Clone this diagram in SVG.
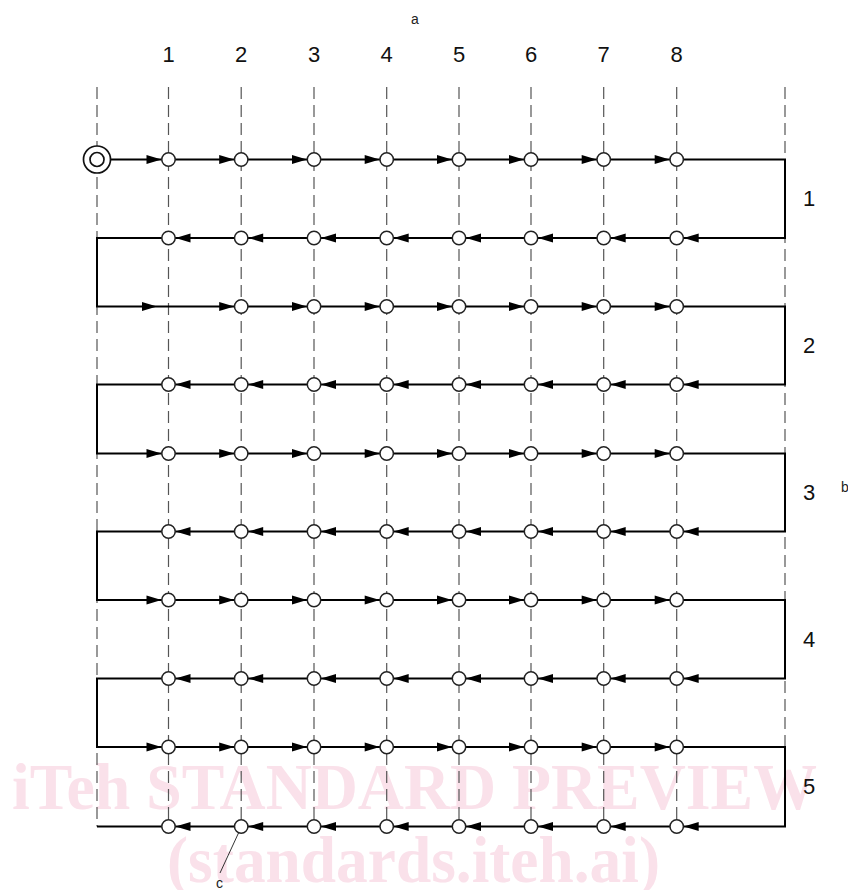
<svg xmlns="http://www.w3.org/2000/svg" xmlns:xlink="http://www.w3.org/1999/xlink" width="848" height="890" viewBox="0 0 848 890">
<style>
.wm{font-family:"Liberation Serif",serif;font-weight:bold;font-size:65px;fill:#fae1ea}
.lbl{font-family:"Liberation Sans",Arial,sans-serif;font-size:22px;fill:#111;text-anchor:middle}
.sm{font-family:"Liberation Sans",Arial,sans-serif;font-size:14px;fill:#222}
.dash{stroke:#555;stroke-width:1.2;stroke-dasharray:12 6;fill:none}
.flow{stroke:#000;stroke-width:2;fill:none}
.nd{fill:#fff;stroke:#222;stroke-width:1.5}
</style>
<defs>
<polygon id="ar" points="-15,-4.5 0,0 -15,4.5" fill="#000"/>
<polygon id="al" points="15,-4.5 0,0 15,4.5" fill="#000"/>
<circle id="node" r="6.7" class="nd"/>
</defs>
<rect width="848" height="890" fill="#fff"/>
<g id="watermark">
<text class="wm" x="12" y="809" textLength="805" lengthAdjust="spacingAndGlyphs">iTeh STANDARD PREVIEW</text>
<text class="wm" x="167" y="882" textLength="493" lengthAdjust="spacingAndGlyphs">(standards.iteh.ai)</text>
</g>
<g id="gridlines">
<line class="dash" x1="97" y1="87" x2="97" y2="826.5"/>
<line class="dash" x1="168.5" y1="87" x2="168.5" y2="826.5"/>
<line class="dash" x1="241.2" y1="87" x2="241.2" y2="826.5"/>
<line class="dash" x1="314" y1="87" x2="314" y2="826.5"/>
<line class="dash" x1="386.7" y1="87" x2="386.7" y2="826.5"/>
<line class="dash" x1="459" y1="87" x2="459" y2="826.5"/>
<line class="dash" x1="531" y1="87" x2="531" y2="826.5"/>
<line class="dash" x1="603.7" y1="87" x2="603.7" y2="826.5"/>
<line class="dash" x1="676.7" y1="87" x2="676.7" y2="826.5"/>
<line class="dash" x1="785" y1="87" x2="785" y2="826.5"/>
</g>
<g id="labels">
<text class="lbl" x="168.5" y="62">1</text>
<text class="lbl" x="241.2" y="62">2</text>
<text class="lbl" x="314" y="62">3</text>
<text class="lbl" x="386.7" y="62">4</text>
<text class="lbl" x="459" y="62">5</text>
<text class="lbl" x="531" y="62">6</text>
<text class="lbl" x="603.7" y="62">7</text>
<text class="lbl" x="676.7" y="62">8</text>
<text class="lbl" x="809" y="206">1</text>
<text class="lbl" x="809" y="353">2</text>
<text class="lbl" x="809" y="500">3</text>
<text class="lbl" x="809" y="647">4</text>
<text class="lbl" x="809" y="794">5</text>
<text class="sm" x="411" y="24">a</text>
<text class="sm" x="841" y="492">b</text>
<text class="sm" x="216" y="888">c</text>
</g>
<g id="connectors">
<path class="flow" d="M110,159.5 H785 V238 H97 V306.5 H785 V384.5 H97 V453.5 H785 V531.5 H97 V600 H785 V678.5 H97 V747 H785 V826.5 H97"/>
<line x1="238.5" y1="833" x2="220" y2="873" stroke="#333" stroke-width="1"/>
<g id="arrows-r1">
<use href="#ar" x="161.5" y="159.5"/><use href="#ar" x="234.2" y="159.5"/><use href="#ar" x="307" y="159.5"/><use href="#ar" x="379.7" y="159.5"/><use href="#ar" x="452" y="159.5"/><use href="#ar" x="524" y="159.5"/><use href="#ar" x="596.7" y="159.5"/><use href="#ar" x="669.7" y="159.5"/>
</g>
<g id="arrows-r2">
<use href="#al" x="175.5" y="238"/><use href="#al" x="248.2" y="238"/><use href="#al" x="321" y="238"/><use href="#al" x="393.7" y="238"/><use href="#al" x="466" y="238"/><use href="#al" x="538" y="238"/><use href="#al" x="610.7" y="238"/><use href="#al" x="683.7" y="238"/>
</g>
<g id="arrows-r3">
<use href="#ar" x="157" y="306.5"/><use href="#ar" x="234.2" y="306.5"/><use href="#ar" x="307" y="306.5"/><use href="#ar" x="379.7" y="306.5"/><use href="#ar" x="452" y="306.5"/><use href="#ar" x="524" y="306.5"/><use href="#ar" x="596.7" y="306.5"/><use href="#ar" x="669.7" y="306.5"/>
</g>
<g id="arrows-r4">
<use href="#al" x="175.5" y="384.5"/><use href="#al" x="248.2" y="384.5"/><use href="#al" x="321" y="384.5"/><use href="#al" x="393.7" y="384.5"/><use href="#al" x="466" y="384.5"/><use href="#al" x="538" y="384.5"/><use href="#al" x="610.7" y="384.5"/><use href="#al" x="683.7" y="384.5"/>
</g>
<g id="arrows-r5">
<use href="#ar" x="161.5" y="453.5"/><use href="#ar" x="234.2" y="453.5"/><use href="#ar" x="307" y="453.5"/><use href="#ar" x="379.7" y="453.5"/><use href="#ar" x="452" y="453.5"/><use href="#ar" x="524" y="453.5"/><use href="#ar" x="596.7" y="453.5"/><use href="#ar" x="669.7" y="453.5"/>
</g>
<g id="arrows-r6">
<use href="#al" x="175.5" y="531.5"/><use href="#al" x="248.2" y="531.5"/><use href="#al" x="321" y="531.5"/><use href="#al" x="393.7" y="531.5"/><use href="#al" x="466" y="531.5"/><use href="#al" x="538" y="531.5"/><use href="#al" x="610.7" y="531.5"/><use href="#al" x="683.7" y="531.5"/>
</g>
<g id="arrows-r7">
<use href="#ar" x="161.5" y="600"/><use href="#ar" x="234.2" y="600"/><use href="#ar" x="307" y="600"/><use href="#ar" x="379.7" y="600"/><use href="#ar" x="452" y="600"/><use href="#ar" x="524" y="600"/><use href="#ar" x="596.7" y="600"/><use href="#ar" x="669.7" y="600"/>
</g>
<g id="arrows-r8">
<use href="#al" x="175.5" y="678.5"/><use href="#al" x="248.2" y="678.5"/><use href="#al" x="321" y="678.5"/><use href="#al" x="393.7" y="678.5"/><use href="#al" x="466" y="678.5"/><use href="#al" x="538" y="678.5"/><use href="#al" x="610.7" y="678.5"/><use href="#al" x="683.7" y="678.5"/>
</g>
<g id="arrows-r9">
<use href="#ar" x="161.5" y="747"/><use href="#ar" x="234.2" y="747"/><use href="#ar" x="307" y="747"/><use href="#ar" x="379.7" y="747"/><use href="#ar" x="452" y="747"/><use href="#ar" x="524" y="747"/><use href="#ar" x="596.7" y="747"/><use href="#ar" x="669.7" y="747"/>
</g>
<g id="arrows-r10">
<use href="#al" x="175.5" y="826.5"/><use href="#al" x="248.2" y="826.5"/><use href="#al" x="321" y="826.5"/><use href="#al" x="393.7" y="826.5"/><use href="#al" x="466" y="826.5"/><use href="#al" x="538" y="826.5"/><use href="#al" x="610.7" y="826.5"/><use href="#al" x="683.7" y="826.5"/>
</g>
</g>
<g id="start"><circle cx="97" cy="159.5" r="13.5" fill="#fff" stroke="#111" stroke-width="1.7"/><circle cx="97" cy="159.5" r="7" fill="#fff" stroke="#111" stroke-width="1.7"/></g>
<g id="n-r1c1"><use href="#node" x="168.5" y="159.5"/></g>
<g id="n-r1c2"><use href="#node" x="241.2" y="159.5"/></g>
<g id="n-r1c3"><use href="#node" x="314" y="159.5"/></g>
<g id="n-r1c4"><use href="#node" x="386.7" y="159.5"/></g>
<g id="n-r1c5"><use href="#node" x="459" y="159.5"/></g>
<g id="n-r1c6"><use href="#node" x="531" y="159.5"/></g>
<g id="n-r1c7"><use href="#node" x="603.7" y="159.5"/></g>
<g id="n-r1c8"><use href="#node" x="676.7" y="159.5"/></g>
<g id="n-r2c1"><use href="#node" x="168.5" y="238"/></g>
<g id="n-r2c2"><use href="#node" x="241.2" y="238"/></g>
<g id="n-r2c3"><use href="#node" x="314" y="238"/></g>
<g id="n-r2c4"><use href="#node" x="386.7" y="238"/></g>
<g id="n-r2c5"><use href="#node" x="459" y="238"/></g>
<g id="n-r2c6"><use href="#node" x="531" y="238"/></g>
<g id="n-r2c7"><use href="#node" x="603.7" y="238"/></g>
<g id="n-r2c8"><use href="#node" x="676.7" y="238"/></g>
<g id="n-r3c2"><use href="#node" x="241.2" y="306.5"/></g>
<g id="n-r3c3"><use href="#node" x="314" y="306.5"/></g>
<g id="n-r3c4"><use href="#node" x="386.7" y="306.5"/></g>
<g id="n-r3c5"><use href="#node" x="459" y="306.5"/></g>
<g id="n-r3c6"><use href="#node" x="531" y="306.5"/></g>
<g id="n-r3c7"><use href="#node" x="603.7" y="306.5"/></g>
<g id="n-r3c8"><use href="#node" x="676.7" y="306.5"/></g>
<g id="n-r4c1"><use href="#node" x="168.5" y="384.5"/></g>
<g id="n-r4c2"><use href="#node" x="241.2" y="384.5"/></g>
<g id="n-r4c3"><use href="#node" x="314" y="384.5"/></g>
<g id="n-r4c4"><use href="#node" x="386.7" y="384.5"/></g>
<g id="n-r4c5"><use href="#node" x="459" y="384.5"/></g>
<g id="n-r4c6"><use href="#node" x="531" y="384.5"/></g>
<g id="n-r4c7"><use href="#node" x="603.7" y="384.5"/></g>
<g id="n-r4c8"><use href="#node" x="676.7" y="384.5"/></g>
<g id="n-r5c1"><use href="#node" x="168.5" y="453.5"/></g>
<g id="n-r5c2"><use href="#node" x="241.2" y="453.5"/></g>
<g id="n-r5c3"><use href="#node" x="314" y="453.5"/></g>
<g id="n-r5c4"><use href="#node" x="386.7" y="453.5"/></g>
<g id="n-r5c5"><use href="#node" x="459" y="453.5"/></g>
<g id="n-r5c6"><use href="#node" x="531" y="453.5"/></g>
<g id="n-r5c7"><use href="#node" x="603.7" y="453.5"/></g>
<g id="n-r5c8"><use href="#node" x="676.7" y="453.5"/></g>
<g id="n-r6c1"><use href="#node" x="168.5" y="531.5"/></g>
<g id="n-r6c2"><use href="#node" x="241.2" y="531.5"/></g>
<g id="n-r6c3"><use href="#node" x="314" y="531.5"/></g>
<g id="n-r6c4"><use href="#node" x="386.7" y="531.5"/></g>
<g id="n-r6c5"><use href="#node" x="459" y="531.5"/></g>
<g id="n-r6c6"><use href="#node" x="531" y="531.5"/></g>
<g id="n-r6c7"><use href="#node" x="603.7" y="531.5"/></g>
<g id="n-r6c8"><use href="#node" x="676.7" y="531.5"/></g>
<g id="n-r7c1"><use href="#node" x="168.5" y="600"/></g>
<g id="n-r7c2"><use href="#node" x="241.2" y="600"/></g>
<g id="n-r7c3"><use href="#node" x="314" y="600"/></g>
<g id="n-r7c4"><use href="#node" x="386.7" y="600"/></g>
<g id="n-r7c5"><use href="#node" x="459" y="600"/></g>
<g id="n-r7c6"><use href="#node" x="531" y="600"/></g>
<g id="n-r7c7"><use href="#node" x="603.7" y="600"/></g>
<g id="n-r7c8"><use href="#node" x="676.7" y="600"/></g>
<g id="n-r8c1"><use href="#node" x="168.5" y="678.5"/></g>
<g id="n-r8c2"><use href="#node" x="241.2" y="678.5"/></g>
<g id="n-r8c3"><use href="#node" x="314" y="678.5"/></g>
<g id="n-r8c4"><use href="#node" x="386.7" y="678.5"/></g>
<g id="n-r8c5"><use href="#node" x="459" y="678.5"/></g>
<g id="n-r8c6"><use href="#node" x="531" y="678.5"/></g>
<g id="n-r8c7"><use href="#node" x="603.7" y="678.5"/></g>
<g id="n-r8c8"><use href="#node" x="676.7" y="678.5"/></g>
<g id="n-r9c1"><use href="#node" x="168.5" y="747"/></g>
<g id="n-r9c2"><use href="#node" x="241.2" y="747"/></g>
<g id="n-r9c3"><use href="#node" x="314" y="747"/></g>
<g id="n-r9c4"><use href="#node" x="386.7" y="747"/></g>
<g id="n-r9c5"><use href="#node" x="459" y="747"/></g>
<g id="n-r9c6"><use href="#node" x="531" y="747"/></g>
<g id="n-r9c7"><use href="#node" x="603.7" y="747"/></g>
<g id="n-r9c8"><use href="#node" x="676.7" y="747"/></g>
<g id="n-r10c1"><use href="#node" x="168.5" y="826.5"/></g>
<g id="n-r10c2"><use href="#node" x="241.2" y="826.5"/></g>
<g id="n-r10c3"><use href="#node" x="314" y="826.5"/></g>
<g id="n-r10c4"><use href="#node" x="386.7" y="826.5"/></g>
<g id="n-r10c5"><use href="#node" x="459" y="826.5"/></g>
<g id="n-r10c6"><use href="#node" x="531" y="826.5"/></g>
<g id="n-r10c7"><use href="#node" x="603.7" y="826.5"/></g>
<g id="n-r10c8"><use href="#node" x="676.7" y="826.5"/></g>
</svg>
